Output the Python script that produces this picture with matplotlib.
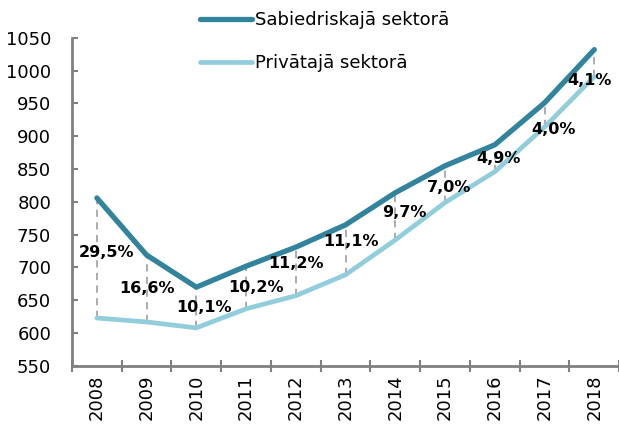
import numpy as np
import matplotlib.pyplot as plt

years = ["2008", "2009", "2010", "2011", "2012", "2013", "2014", "2015", "2016", "2017", "2018"]
public = [806, 719, 670, 702, 731, 765, 814, 855, 887, 951, 1032]
private = [623, 617, 608, 637, 657, 689, 742, 799, 846, 914, 991]
gap_labels = ["29,5%", "16,6%", "10,1%", "10,2%", "11,2%", "11,1%", "9,7%", "7,0%", "4,9%", "4,0%", "4,1%"]

DARK = "#31849B"
LIGHT = "#92CDDC"
GREY = "#808080"

fig = plt.figure(figsize=(6.19, 4.25), dpi=100)
ax = fig.add_axes([0.1163, 0.139, 0.884, 0.772])

x = np.arange(len(years))

# dashed connectors between the two series
for xi, a, b in zip(x, public, private):
    ax.plot([xi, xi], [b, a], color="#A6A6A6", lw=1.3, ls=(0, (4, 3)), zorder=1)

l1, = ax.plot(x, public, color=DARK, lw=3.8, solid_capstyle="round", zorder=3)
l2, = ax.plot(x, private, color=LIGHT, lw=3.4, solid_capstyle="round", zorder=2)

# percentage labels, roughly midway between the lines
dx = [0.2, 0.0, 0.15, 0.2, 0.0, 0.1, 0.18, 0.08, 0.08, 0.18, -0.1]
dy = [8, 0, 0, 0, 12, 12, 6, -5, -1, -22, -26]
for xi, a, b, lab, ox, oy in zip(x, public, private, gap_labels, dx, dy):
    ax.text(xi + ox, (a + b) / 2 + oy, lab, ha="center", va="center",
            fontsize=11.5, fontweight="bold", color="black", zorder=4)

ax.set_xlim(-0.5, 10.5)
ax.set_ylim(550, 1050)
ax.set_yticks(np.arange(550, 1051, 50))
ax.set_xticks(x)
ax.set_xticklabels(years, rotation=90)
ax.set_xticks(np.arange(-0.5, 10.6, 1), minor=True)

ax.tick_params(axis="y", direction="in", length=4, width=1.5, color=GREY,
               labelsize=13, pad=15)
ax.tick_params(axis="x", which="major", length=0, labelsize=13, pad=6)
ax.tick_params(axis="x", which="minor", direction="inout", length=9,
               width=1.5, color=GREY)

for s in ["top", "right"]:
    ax.spines[s].set_visible(False)
for s in ["left", "bottom"]:
    ax.spines[s].set_color(GREY)
    ax.spines[s].set_linewidth(2)

fig.legend([l1, l2], ["Sabiedriskajā sektorā", "Privātajā sektorā"],
           loc="upper left", bbox_to_anchor=(0.297, 1.012), frameon=False,
           fontsize=13, handlelength=2.9, handletextpad=0.15, labelspacing=1.4)

fig.savefig("out.png", dpi=100)
